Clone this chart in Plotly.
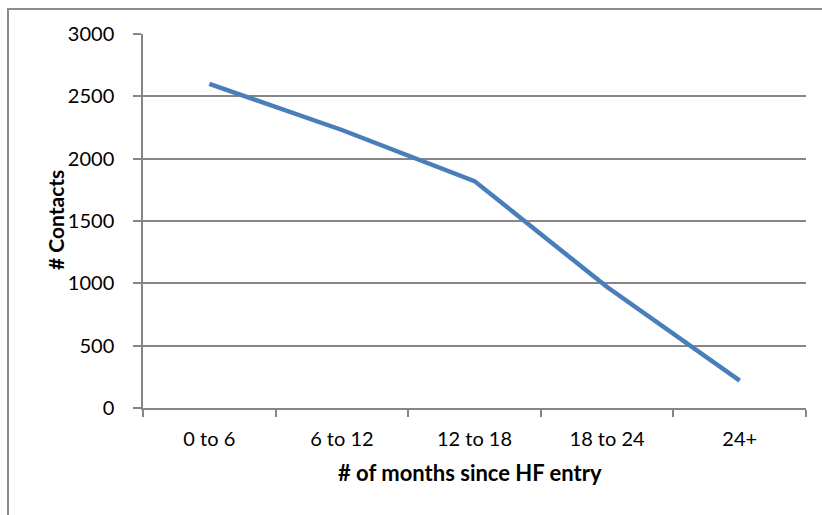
import plotly.graph_objects as go

categories = ["0 to 6", "6 to 12", "12 to 18", "18 to 24", "24+"]
contacts = [2600, 2230, 1820, 970, 220]
y_ticks = [0, 500, 1000, 1500, 2000, 2500, 3000]

W, H = 822, 515
L, R, T, B = 143, 16, 34, 107
pw, ph = W - L - R, H - T - B


def px_x(x):
    return (x - L) / pw


def px_y(y):
    return (T + ph - y) / ph


fig = go.Figure()
fig.add_trace(go.Scatter(
    x=categories, y=contacts, mode="lines",
    line=dict(color="#4A7EBB", width=4.5),
    hoverinfo="skip", showlegend=False,
))

font = "Lato, Open Sans, sans-serif"
fig.update_layout(
    width=W, height=H,
    margin=dict(l=L, r=R, t=T, b=B, pad=0),
    paper_bgcolor="white", plot_bgcolor="white",
    font=dict(family=font, color="black"),
    xaxis=dict(
        type="category", range=[-0.5, 4.5], tickson="boundaries",
        showgrid=False, showline=True, linecolor="#868686", linewidth=1.5,
        ticks="outside", ticklen=7, tickcolor="#868686", tickwidth=1.5,
        tickfont=dict(size=20), zeroline=False, ticklabelstandoff=12,
    ),
    yaxis=dict(
        range=[0, 3000], tickvals=y_ticks,
        showgrid=True, gridcolor="#868686", gridwidth=1.5,
        showline=True, linecolor="#868686", linewidth=1.5,
        ticks="outside", ticklen=8, tickcolor="#868686", tickwidth=1.5,
        tickfont=dict(size=20), zeroline=False, ticklabelstandoff=15,
    ),
    annotations=[
        dict(text="<b># of months since HF entry</b>", xref="paper", yref="paper",
             x=px_x(470), y=px_y(472), showarrow=False, font=dict(size=22),
             xanchor="center", yanchor="middle"),
        dict(text="<b># Contacts</b>", xref="paper", yref="paper", textangle=-90,
             x=px_x(55), y=px_y(220), showarrow=False, font=dict(size=21),
             xanchor="center", yanchor="middle"),
    ],
)

frame_js = """
document.body.style.margin='0';
document.body.style.overflow='hidden';
var f=document.createElement('div');
f.style.cssText='position:absolute;left:7px;top:8px;width:900px;height:600px;'
 + 'border-left:2px solid #8C8C8C;border-top:2px solid #8C8C8C;pointer-events:none;z-index:10;';
document.body.appendChild(f);
"""

fig.write_html(
    "out.html",
    config={"displayModeBar": False},
    post_script=frame_js,
)
